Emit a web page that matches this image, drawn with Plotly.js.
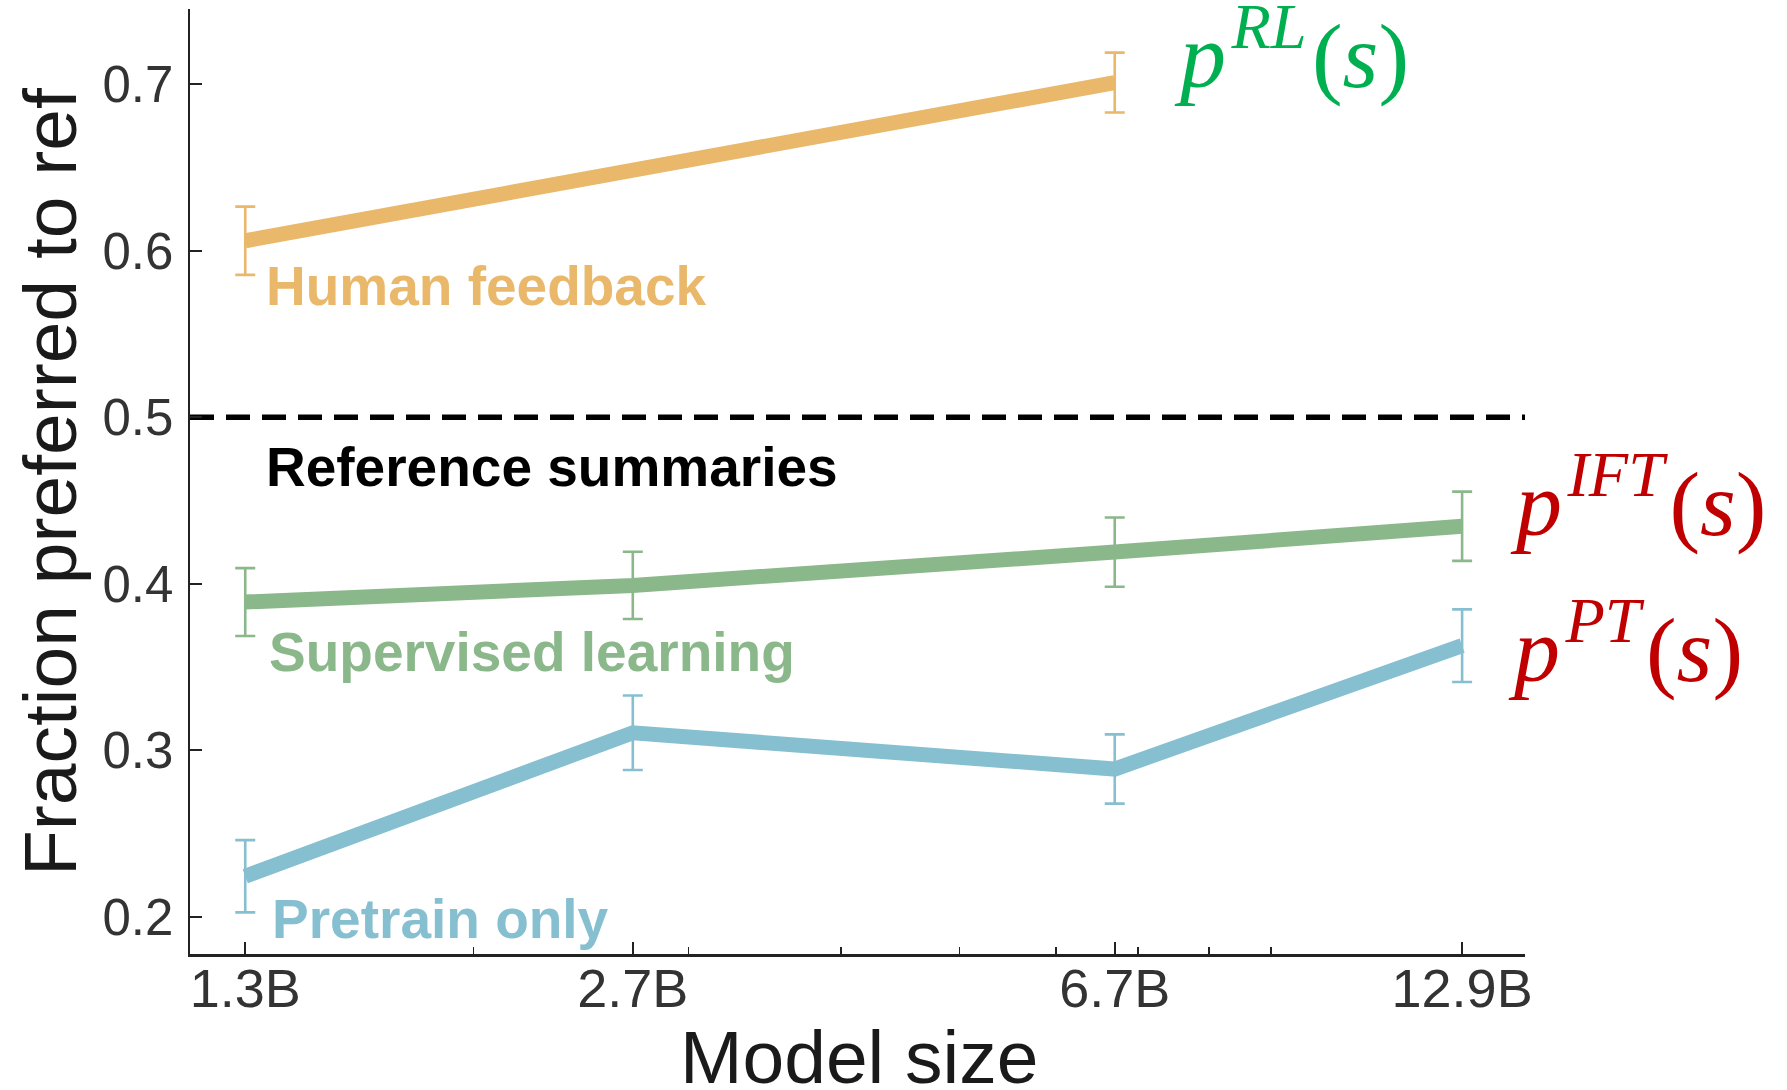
<!DOCTYPE html>
<html>
<head>
<meta charset="utf-8">
<script src="https://cdn.plot.ly/plotly-3.0.1.min.js"></script>
<style>
  html, body { margin: 0; padding: 0; background: #ffffff; }
  #chart { width: 1787px; height: 1090px; }
</style>
</head>
<body>
<div id="chart"></div>
<script>
// ---- data ----
const modelSizes = [1.3, 2.7, 6.7, 12.9];            // billions of parameters
const sizeLabels = ['1.3B', '2.7B', '6.7B', '12.9B'];
const minorTickSizes = [2, 3, 4, 5, 6, 7, 8, 9];

const humanFeedbackSizes = [1.3, 6.7];
const humanFeedback = [0.606, 0.701];
const humanFeedbackErr = [0.0205, 0.018];

const supervised = [0.389, 0.399, 0.419, 0.4345];
const supervisedErr = [0.0204, 0.0202, 0.0208, 0.0208];

const pretrain = [0.2243, 0.3105, 0.2887, 0.3628];
const pretrainErr = [0.0217, 0.0224, 0.0208, 0.0218];

const referenceLevel = 0.5;
const yTickVals = [0.2, 0.3, 0.4, 0.5, 0.6, 0.7];

const xTitle = 'Model size';
const yTitle = 'Fraction preferred to ref';

// ---- style ----
const ORANGE = '#E9B86B';
const GREEN = '#8BB88B';
const BLUE = '#86C0D0';
const TEXT_GREEN = '#00B050';
const TEXT_RED = '#C00000';

// plot area in pixels
const PL = 190, PR = 1525, PT = 9, PB = 954;
const px = x => (x - PL) / (PR - PL);
const py = y => (PB - y) / (PB - PT);

function seriesTrace(xs, ys, errs, color) {
  return {
    type: 'scatter', mode: 'lines',
    x: xs, y: ys,
    line: { color: color, width: 15 },
    error_y: { type: 'data', array: errs, visible: true, color: color, thickness: 2.6, width: 10 },
    hoverinfo: 'skip', showlegend: false
  };
}

const traces = [
  seriesTrace(humanFeedbackSizes, humanFeedback, humanFeedbackErr, ORANGE),
  seriesTrace(modelSizes, supervised, supervisedErr, GREEN),
  seriesTrace(modelSizes, pretrain, pretrainErr, BLUE)
];

const SANS = 'Liberation Sans, Arial, sans-serif';
const labelFont = (color) => ({ family: SANS, size: 55, color: color });
const mathFont = (color) => ({ family: 'Liberation Serif, Times New Roman, serif', size: 92, color: color });
const titleFont = { family: SANS, size: 75, color: '#1a1a1a' };
const TS = '&#8202;';

const annotations = [
  // axis titles
  { text: xTitle, xref: 'paper', yref: 'paper', x: px(859), y: py(1057), xanchor: 'center', yanchor: 'middle', showarrow: false, font: titleFont },
  { text: yTitle, xref: 'paper', yref: 'paper', x: px(50), y: py(482), xanchor: 'center', yanchor: 'middle', textangle: -90, showarrow: false, font: titleFont },
  // series labels
  { text: '<b>Human feedback</b>', xref: 'paper', yref: 'paper', x: px(264), y: py(286), xanchor: 'left', yanchor: 'middle', showarrow: false, font: labelFont(ORANGE) },
  { text: '<b>Reference summaries</b>', xref: 'paper', yref: 'paper', x: px(264), y: py(467), xanchor: 'left', yanchor: 'middle', showarrow: false, font: labelFont('#000000') },
  { text: '<b>Supervised learning</b>', xref: 'paper', yref: 'paper', x: px(267), y: py(652), xanchor: 'left', yanchor: 'middle', showarrow: false, font: labelFont(GREEN) },
  { text: '<b>Pretrain only</b>', xref: 'paper', yref: 'paper', x: px(270), y: py(919), xanchor: 'left', yanchor: 'middle', showarrow: false, font: labelFont(BLUE) },
  // math labels
  { text: '<i>p</i><sup>' + TS + '<i>RL</i>' + TS + '</sup>(<i>s</i>)', xref: 'paper', yref: 'paper', x: px(1172), y: py(49), xanchor: 'left', yanchor: 'middle', showarrow: false, font: mathFont(TEXT_GREEN) },
  { text: '<i>p</i><sup>' + TS + '<i>IFT</i>' + TS + '</sup>(<i>s</i>)', xref: 'paper', yref: 'paper', x: px(1508), y: py(497), xanchor: 'left', yanchor: 'middle', showarrow: false, font: mathFont(TEXT_RED) },
  { text: '<i>p</i><sup>' + TS + '<i>PT</i>' + TS + '</sup>(<i>s</i>)', xref: 'paper', yref: 'paper', x: px(1506), y: py(643), xanchor: 'left', yanchor: 'middle', showarrow: false, font: mathFont(TEXT_RED) }
];

const layout = {
  width: 1787, height: 1090,
  margin: { l: PL, r: 1787 - PR, t: PT, b: 1090 - PB, pad: 0 },
  paper_bgcolor: '#ffffff', plot_bgcolor: '#ffffff',
  showlegend: false,
  xaxis: {
    type: 'log',
    range: [0.0687, 1.1621],
    tickmode: 'array', tickvals: modelSizes, ticktext: sizeLabels,
    ticks: 'inside', ticklen: 12, tickwidth: 2, tickcolor: '#222222',
    minor: { tickmode: 'array', tickvals: minorTickSizes, ticks: 'inside', ticklen: 7, tickwidth: 1.5, tickcolor: '#222222', showgrid: false },
    showline: true, linecolor: '#222222', linewidth: 2.5,
    showgrid: false, zeroline: false,
    tickfont: { family: SANS, size: 54, color: '#333333' },
    ticklabelstandoff: -14,
    automargin: false, fixedrange: true
  },
  yaxis: {
    range: [0.1776, 0.7452],
    tickmode: 'array', tickvals: yTickVals, ticktext: yTickVals.map(v => v.toFixed(1)),
    ticks: 'inside', ticklen: 12, tickwidth: 2, tickcolor: '#222222',
    showline: true, linecolor: '#222222', linewidth: 2.5,
    showgrid: false, zeroline: false,
    tickfont: { family: SANS, size: 51, color: '#333333' },
    ticklabelstandoff: 4,
    automargin: false, fixedrange: true
  },
  shapes: [
    { type: 'line', xref: 'paper', yref: 'y', x0: 0, x1: 1, y0: referenceLevel, y1: referenceLevel,
      line: { color: '#000000', width: 5.5, dash: '24px,12px' }, layer: 'below' }
  ],
  annotations: annotations
};

Plotly.newPlot('chart', traces, layout, { displayModeBar: false, staticPlot: true });
</script>
</body>
</html>
